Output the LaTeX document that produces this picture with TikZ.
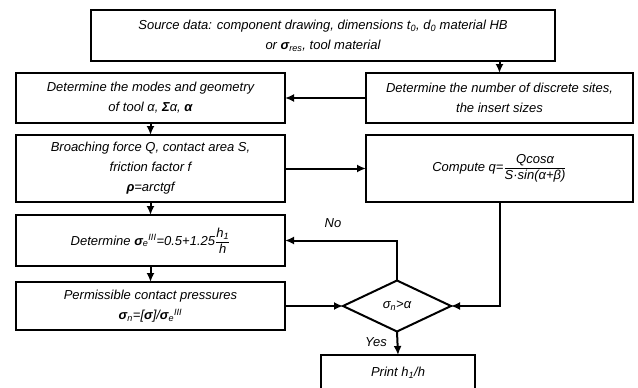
\documentclass[tikz,border=0pt]{standalone}
\usepackage{fontspec}
\setmainfont{Liberation Sans}
\usetikzlibrary{positioning,shapes.geometric,arrows.meta}

\begin{document}
\begin{tikzpicture}[x=1pt, y=1pt, line width=2pt, node distance={12pt},
		main/.style = {draw, rectangle, align=center, inner sep=0pt, outer sep=0pt, font=\fontsize{13}{20}\selectfont\itshape},
		dec/.style = {draw, diamond, aspect=2.1, inner sep=0pt, outer sep=0pt, minimum width=108pt, minimum height=51pt, font=\fontsize{13}{20}\selectfont\itshape},
		arr/.style = {-{Latex[length=9pt,width=8pt]}}]
			\useasboundingbox (0,0) rectangle (638,-388);
			\clip (0,0) rectangle (638,-388);
			\node[main, minimum width=464pt, minimum height=51pt] (1) at (323,-35.5) {Source data: component drawing, dimensions t\textsubscript{0}, d\textsubscript{0} material HB\\or {\bfseries σ}\textsubscript{res}, tool material};
			\node[main, minimum width=269pt, minimum height=50pt] (2) at (150.5,-98) {Determine the modes and geometry\\of tool α, {\bfseries Σ}α, {\bfseries α}};
			\node[main, minimum width=267pt, minimum height=50pt] (3) at (499.5,-98) {Determine the number of discrete sites,\\the insert sizes};
			\node[main, minimum width=269pt, minimum height=67pt] (4) [below=12pt of 2] {Broaching force Q, contact area S,\\friction factor f\\{\bfseries ρ}=arctgf};
			\node[main, minimum width=267pt, minimum height=67pt] (5) [below=12pt of 3] {Compute q=$\displaystyle\frac{\mbox{Qcosα}}{\mbox{S·sin(α+β)}}$};
			\node[main, minimum width=269pt, minimum height=51pt] (6) [below=13pt of 4] {Determine {\bfseries σ}\textsubscript{e}\textsuperscript{III}=0.5+1.25$\displaystyle\frac{\mbox{h\textsubscript{1}}}{\mbox{h}}$};
			\node[main, minimum width=269pt, minimum height=48pt] (7) [below=16pt of 6] {Permissible contact pressures\\{\bfseries σ}\textsubscript{n}=[{\bfseries σ}]/{\bfseries σ}\textsubscript{e}\textsuperscript{III}};
			\node[dec] (8) at (397,-306) {σ\textsubscript{n}>α};
			\node[main, minimum width=154pt, minimum height=36pt] (9) at (398,-373) {Print h\textsubscript{1}/h};
			\node[font=\fontsize{13}{15}\selectfont\itshape] (10) at (333,-223) {No};
			\node[font=\fontsize{13}{15}\selectfont\itshape] (11) at (376,-342) {Yes};
			\draw[arr] (1.south -| 3.north) -- (3.north);
			\draw[arr] (3.west) -- (2.east);
			\draw[arr] (2.south) -- (4.north);
			\draw[arr] (4.south) -- (6.north);
			\draw[arr] (6.south) -- (7.north);
			\draw[arr] (4.east) -- (5.west);
			\draw[arr] (5.south) |- (8.east);
			\draw[arr] (7.east) -- (8.west);
			\draw[arr] (8.north) |- (6.east);
			\draw[arr] (8.south) -- (9.north);
		\end{tikzpicture}
\end{document}
